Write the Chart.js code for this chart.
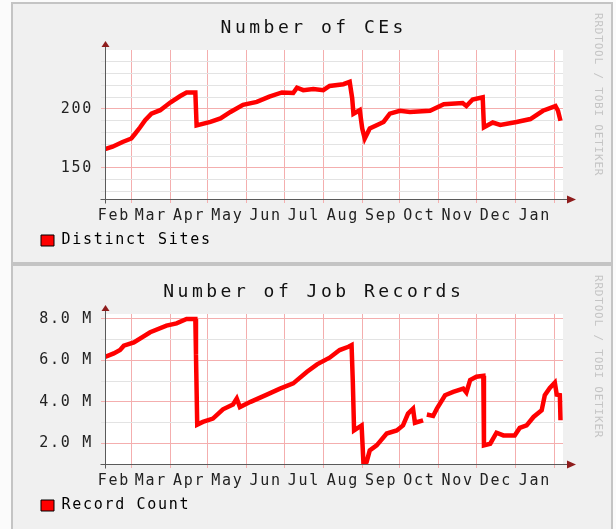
<!DOCTYPE html>
<html>
<head>
<meta charset="utf-8">
<title>Number of CEs / Number of Job Records</title>
<script src="https://cdn.jsdelivr.net/npm/chart.js@4.4.1/dist/chart.umd.min.js"></script>
<style>
  body { margin: 0; background: #fbfbfb; }
  .panel { position: absolute; left: 11px; width: 598px; background: #f0f0f0; border: 2px solid #c4c4c4; }
  #p1 { top: 2px; height: 258px; }
  #p2 { top: 264px; height: 263px; }
  canvas { display: block; }
</style>
</head>
<body>
<div class="panel" id="p1"><canvas id="ces" width="598" height="258"></canvas></div>
<div class="panel" id="p2"><canvas id="jobs" width="598" height="263"></canvas></div>
<script>
// month boundaries, in days from the start of the plotted year
const monthNames = ['Feb', 'Mar', 'Apr', 'May', 'Jun', 'Jul', 'Aug', 'Sep', 'Oct', 'Nov', 'Dec', 'Jan'];
const monthStarts = [-7, 21, 52, 82, 113, 143, 174, 205, 235, 266, 296, 327, 358];
const daySpan = 365;

// Number of CEs - Distinct Sites
const ceDays = [0, 6, 14, 21, 24, 28, 32, 37, 44, 52, 60, 65, 72, 73, 84, 92, 100, 110, 121, 131,
  141, 150, 153, 158, 166, 174, 179, 190, 195, 197, 198, 203, 205, 207, 211, 222, 227, 235, 243, 259,
  270, 285, 288, 293, 301, 302, 309, 315, 328, 339, 349, 359, 361, 363];
const ceSites = [166, 168, 172, 175, 179, 184.5, 190.5, 196, 199, 205.5, 211, 214, 214, 186, 189, 192, 197.5, 203.5, 206, 210.5,
  214, 213.5, 218, 216, 217, 216, 219.5, 221, 223, 209, 196, 199, 183.5, 175, 183.5, 189, 196, 198.5, 197.5, 198.5,
  204, 205, 202.5, 208, 210, 184.5, 188.5, 186.5, 189, 191.5, 198.5, 202.5, 198.5, 190];
const ceGrid = [130, 140, 150, 160, 170, 180, 190, 200, 210, 220, 230, 240];
const ceLabels = [150, 200];

// Number of Job Records - Record Count (millions)
const jobDays = [0, 7, 12, 15, 23, 36, 49, 57, 65, 72, 72.5, 73.5, 78, 86, 94, 102, 105, 107.5, 116, 129,
  139.5, 150, 161, 169, 179, 187, 194, 196.5, 197.5, 198.5, 204.5, 206, 208.5, 211, 216.5, 224.5, 232.5, 237.5, 241.5, 245.5,
  247, 253.5, 255, 256.5, 261.5, 264.5, 271, 277.5, 285.5, 288, 291, 296, 301.5, 302, 307, 312, 317.5, 326.5, 330.5, 336,
  341.5, 348, 350.5, 354.5, 358.5, 360, 362.5, 363];
const jobRecords = [6.17, 6.34, 6.5, 6.71, 6.87, 7.36, 7.68, 7.79, 8.0, 8.0, 6.29, 2.9, 3.03, 3.19, 3.64, 3.87, 4.16, 3.75, 4.0, 4.35,
  4.64, 4.89, 5.45, 5.81, 6.13, 6.5, 6.66, 6.74, 4.96, 2.62, 2.86, 1.01, 1.1, 1.66, 1.9, 2.47, 2.62, 2.86, 3.43, 3.67,
  2.99, 3.11, null, 3.39, 3.32, 3.67, 4.32, 4.48, 4.64, 4.45, 5.05, 5.21, 5.26, 1.9, 1.98, 2.51, 2.38, 2.38, 2.74, 2.86,
  3.27, 3.59, 4.32, 4.67, 4.93, 4.35, 4.32, 3.11];
const jobGrid = [2, 3, 4, 5, 6, 7, 8];
const jobLabels = [2, 4, 6, 8];

const MONO = "'DejaVu Sans Mono', monospace";
const MAJOR = '#f4aeae';
const MINOR = '#e3e3e3';

const boundaries = monthStarts.filter(d => d > 0 && d < daySpan);
const mids = monthNames.map((m, i) => (monthStarts[i] + monthStarts[i + 1]) / 2);
const xTicks = boundaries.concat(mids).sort((a, b) => a - b);

const rrdLook = {
  id: 'rrdLook',
  beforeUpdate(chart) { chart.ctx.letterSpacing = '1.7px'; },
  beforeDraw(chart) {
    const { ctx, chartArea: a } = chart;
    ctx.letterSpacing = '1.7px';
    ctx.save();
    ctx.fillStyle = '#ffffff';
    ctx.fillRect(a.left, a.top, a.right - a.left, a.bottom - a.top);
    ctx.restore();
  },
  afterDraw(chart, args, opts) {
    const { ctx, chartArea: a, width } = chart;
    const L = Math.round(a.left) + 0.5, B = Math.round(a.bottom) + 0.5;
    ctx.save();
    // axes
    ctx.strokeStyle = '#5a5a5a';
    ctx.lineWidth = 1;
    ctx.beginPath();
    ctx.moveTo(L - 5, B); ctx.lineTo(a.right + 5, B);
    ctx.moveTo(L, B + 4); ctx.lineTo(L, a.top - 4);
    ctx.stroke();
    // arrow heads
    ctx.fillStyle = '#8e1c1c';
    ctx.beginPath();
    ctx.moveTo(L, a.top - 9); ctx.lineTo(L - 4, a.top - 3); ctx.lineTo(L + 4, a.top - 3);
    ctx.fill();
    ctx.beginPath();
    ctx.moveTo(a.right + 13, B); ctx.lineTo(a.right + 4, B - 4); ctx.lineTo(a.right + 4, B + 4);
    ctx.fill();
    // title
    ctx.font = '18px ' + MONO;
    ctx.letterSpacing = '3.5px';
    ctx.fillStyle = '#111';
    ctx.textAlign = 'center';
    ctx.textBaseline = 'alphabetic';
    ctx.fillText(opts.title, width / 2 + 1.75, opts.titleY);
    // watermark
    ctx.translate(585, 9);
    ctx.rotate(Math.PI / 2);
    ctx.font = '11px ' + MONO;
    ctx.letterSpacing = '0.8px';
    ctx.fillStyle = '#c4c4c4';
    ctx.textAlign = 'left';
    ctx.textBaseline = 'middle';
    ctx.fillText('RRDTOOL / TOBI OETIKER', 0, 0);
    ctx.restore();
  }
};

function makeChart(id, cfg) {
  return new Chart(document.getElementById(id), {
    type: 'line',
    data: {
      datasets: [{
        label: cfg.label,
        data: cfg.days.map((d, i) => ({ x: d, y: cfg.values[i] })),
        borderColor: '#ff0000',
        backgroundColor: '#ff0000',
        borderWidth: 4.5,
        pointRadius: 0,
        tension: 0,
        spanGaps: false
      }]
    },
    options: {
      responsive: false,
      animation: false,
      layout: { padding: { left: 24, right: 48, top: cfg.top, bottom: cfg.bottom } },
      plugins: {
        tooltip: { enabled: false },
        legend: {
          position: 'bottom',
          align: 'start',
          labels: {
            boxWidth: 13,
            boxHeight: 11,
            padding: 4,
            color: '#111',
            font: { family: MONO, size: 15 },
            generateLabels: chart => [{
              text: chart.data.datasets[0].label,
              fillStyle: '#ff0000',
              strokeStyle: '#000000',
              lineWidth: 1,
              hidden: false,
              datasetIndex: 0
            }]
          }
        },
        rrdLook: { title: cfg.title, titleY: cfg.titleY }
      },
      scales: {
        x: {
          type: 'linear',
          min: 0,
          max: daySpan,
          afterBuildTicks: s => { s.ticks = xTicks.map(v => ({ value: v })); },
          afterFit: s => { s.height = 30; },
          border: { display: false },
          grid: {
            color: c => boundaries.includes(c.tick.value) ? MAJOR : 'rgba(0,0,0,0)',
            tickLength: 4
          },
          ticks: {
            autoSkip: false,
            maxRotation: 0,
            padding: 4,
            color: '#222',
            font: { family: MONO, size: 15 },
            callback: v => { const i = mids.indexOf(v); return i >= 0 ? monthNames[i] : ''; }
          }
        },
        y: {
          min: cfg.min,
          max: cfg.max,
          afterBuildTicks: s => { s.ticks = cfg.grid.map(v => ({ value: v })); },
          afterFit: s => { s.width = 68; },
          border: { display: false },
          grid: {
            color: c => cfg.labels.includes(c.tick.value) ? MAJOR : MINOR,
            tickLength: 4
          },
          ticks: {
            autoSkip: false,
            padding: 8,
            color: '#222',
            font: { family: MONO, size: 15 },
            callback: v => cfg.labels.includes(v) ? cfg.fmt(v) : ''
          }
        }
      }
    },
    plugins: [rrdLook]
  });
}

makeChart('ces', {
  label: 'Distinct Sites', title: 'Number of CEs', titleY: 29,
  days: ceDays, values: ceSites, grid: ceGrid, labels: ceLabels,
  min: 123.7, max: 250, top: 46, bottom: 4,
  fmt: v => String(v)
});

makeChart('jobs', {
  label: 'Record Count', title: 'Number of Job Records', titleY: 31,
  days: jobDays, values: jobRecords, grid: jobGrid, labels: jobLabels,
  min: 1.0, max: 8.24, top: 48, bottom: 6,
  fmt: v => v.toFixed(1) + ' M'
});
</script>
</body>
</html>
